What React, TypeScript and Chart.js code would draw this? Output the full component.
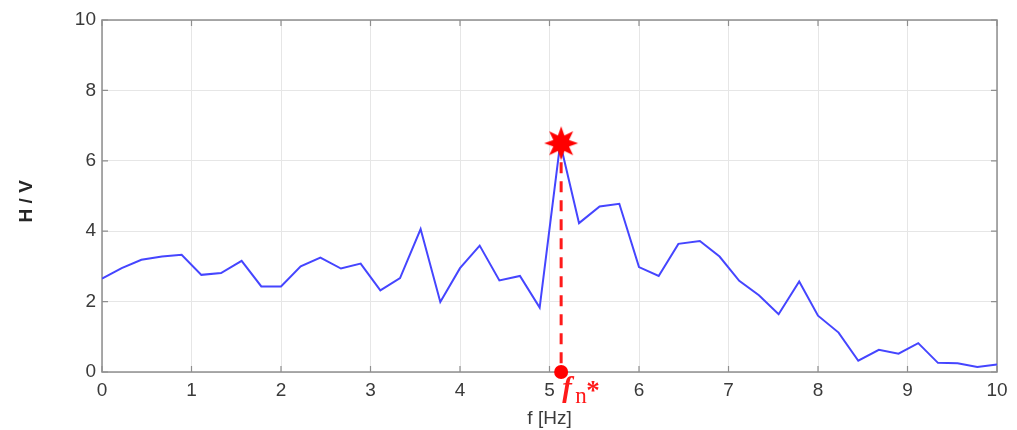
import React, { useEffect, useRef } from "react";
import { Chart, registerables } from "chart.js";

Chart.register(...registerables);

// Frequencies (Hz) of the H/V curve samples
const freqs = [
  0.0, 0.22, 0.44, 0.67, 0.89, 1.11, 1.33, 1.56, 1.78, 2.0,
  2.22, 2.44, 2.67, 2.89, 3.11, 3.33, 3.56, 3.78, 4.0, 4.22,
  4.44, 4.67, 4.89, 5.12, 5.33, 5.56, 5.78, 6.0, 6.22, 6.44,
  6.68, 6.9, 7.12, 7.34, 7.56, 7.79, 8.0, 8.23, 8.45, 8.68,
  8.9, 9.12, 9.34, 9.56, 9.78, 10.0,
];
// H/V amplitude values
const hv = [
  2.65, 2.95, 3.19, 3.28, 3.33, 2.76, 2.81, 3.16, 2.43, 2.43,
  3.0, 3.25, 2.94, 3.08, 2.32, 2.67, 4.06, 1.99, 2.95, 3.59,
  2.6, 2.73, 1.83, 6.5, 4.23, 4.7, 4.78, 2.98, 2.73, 3.64,
  3.72, 3.28, 2.59, 2.18, 1.64, 2.57, 1.6, 1.12, 0.32, 0.63,
  0.52, 0.82, 0.26, 0.25, 0.14, 0.21,
];
// Peak (natural frequency) marker
const peakFreq = [5.13];
const peakHV = [6.5];

const xTicks = [0, 1, 2, 3, 4, 5, 6, 7, 8, 9, 10];
const yTicks = [0, 2, 4, 6, 8, 10];

const FONT = "'Liberation Sans', Arial, sans-serif";

function makeStar(): HTMLCanvasElement {
  const c = document.createElement("canvas");
  const s = 40;
  c.width = s;
  c.height = s;
  const g = c.getContext("2d")!;
  const cx = s / 2, cy = s / 2, ro = 17, ri = 8.5;
  g.beginPath();
  for (let i = 0; i < 16; i++) {
    const r = i % 2 === 0 ? ro : ri;
    const a = -Math.PI / 2 + (i * Math.PI) / 8;
    const x = cx + r * Math.cos(a);
    const y = cy + r * Math.sin(a);
    if (i === 0) g.moveTo(x, y);
    else g.lineTo(x, y);
  }
  g.closePath();
  g.fillStyle = "#ff0000";
  g.fill();
  return c;
}

const framePlugin = {
  id: "matlabFrame",
  beforeDatasetsDraw(chart: any) {
    const { ctx, chartArea: a, scales } = chart;
    ctx.save();
    ctx.strokeStyle = "#8f8f8f";
    ctx.lineWidth = 1.5;
    ctx.strokeRect(a.left, a.top, a.right - a.left, a.bottom - a.top);
    ctx.lineWidth = 1.2;
    const tl = 6;
    ctx.beginPath();
    xTicks.forEach((v) => {
      const x = scales.x.getPixelForValue(v);
      ctx.moveTo(x, a.bottom);
      ctx.lineTo(x, a.bottom - tl);
      ctx.moveTo(x, a.top);
      ctx.lineTo(x, a.top + tl);
    });
    yTicks.forEach((v) => {
      const y = scales.y.getPixelForValue(v);
      ctx.moveTo(a.left, y);
      ctx.lineTo(a.left + tl, y);
      ctx.moveTo(a.right, y);
      ctx.lineTo(a.right - tl, y);
    });
    ctx.stroke();
    ctx.restore();
  },
  afterDraw(chart: any) {
    const { ctx, scales } = chart;
    const x = scales.x.getPixelForValue(peakFreq[0]);
    const y0 = scales.y.getPixelForValue(0);
    ctx.save();
    ctx.fillStyle = "#ff1a1a";
    ctx.textBaseline = "alphabetic";
    ctx.textAlign = "left";
    ctx.font = "italic bold 29px 'Liberation Serif', 'DejaVu Serif', serif";
    ctx.fillText("f", x + 1, y0 + 25);
    ctx.font = "23px 'Liberation Serif', 'DejaVu Serif', serif";
    ctx.fillText("n", x + 14, y0 + 31);
    ctx.font = "bold 27px 'Liberation Serif', 'DejaVu Serif', serif";
    ctx.fillText("*", x + 25, y0 + 27);
    ctx.restore();
  },
};

export default function App() {
  const ref = useRef<HTMLCanvasElement | null>(null);

  useEffect(() => {
    if (!ref.current) return;
    const star = makeStar();
    const chart = new Chart(ref.current, {
      type: "line",
      data: {
        datasets: [
          {
            label: "peak",
            data: peakFreq.map((f, i) => ({ x: f, y: peakHV[i] })),
            pointStyle: star as any,
            pointRadius: 17,
            showLine: false,
            clip: false as any,
            borderColor: "#ff0000",
            backgroundColor: "#ff0000",
          },
          {
            label: "fn",
            data: peakFreq.map((f) => ({ x: f, y: 0 })),
            pointStyle: "circle",
            pointRadius: 7,
            pointBorderWidth: 0,
            pointBackgroundColor: "#ff0000",
            showLine: false,
            clip: false as any,
          },
          {
            label: "drop",
            data: [
              { x: peakFreq[0], y: peakHV[0] },
              { x: peakFreq[0], y: 0 },
            ],
            borderColor: "#ff1a1a",
            borderWidth: 3,
            borderDash: [11, 8],
            pointRadius: 0,
          },
          {
            label: "H/V",
            data: freqs.map((f, i) => ({ x: f, y: hv[i] })),
            borderColor: "#4545ff",
            borderWidth: 2,
            pointRadius: 0,
            tension: 0,
          },
        ],
      },
      options: {
        animation: false,
        responsive: false,
        devicePixelRatio: 1,
        layout: { padding: { left: 0, right: 20, top: 20, bottom: 0 } },
        plugins: { legend: { display: false }, tooltip: { enabled: false } },
        scales: {
          x: {
            type: "linear",
            min: 0,
            max: 10,
            afterBuildTicks: (s: any) => {
              s.ticks = xTicks.map((v) => ({ value: v }));
            },
            afterFit: (s: any) => {
              s.height = 58;
            },
            grid: { color: "#e6e6e6", lineWidth: 1, drawTicks: false },
            border: { display: false },
            ticks: {
              padding: 7,
              color: "#3a3a3a",
              font: { family: FONT, size: 19 },
              maxRotation: 0,
            },
            title: {
              display: true,
              text: "f [Hz]",
              color: "#3a3a3a",
              font: { family: FONT, size: 19 },
              padding: { top: 0, bottom: 0 },
            },
          },
          y: {
            type: "linear",
            min: 0,
            max: 10,
            afterBuildTicks: (s: any) => {
              s.ticks = yTicks.map((v) => ({ value: v }));
            },
            afterFit: (s: any) => {
              s.width = 102;
            },
            grid: { color: "#e6e6e6", lineWidth: 1, drawTicks: false },
            border: { display: false },
            ticks: {
              padding: 6,
              color: "#3a3a3a",
              font: { family: FONT, size: 19 },
            },
            title: {
              display: true,
              text: "H / V  ",
              color: "#262626",
              font: { family: FONT, size: 19, weight: "bold" },
              padding: { top: 15, bottom: 0 },
            },
          },
        },
      },
      plugins: [framePlugin],
    } as any);
    return () => chart.destroy();
  }, []);

  return (
    <div
      style={{
        position: "fixed",
        left: 0,
        top: 0,
        width: 1017,
        height: 430,
        background: "#ffffff",
      }}
    >
      <canvas ref={ref} width={1017} height={430} />
    </div>
  );
}
